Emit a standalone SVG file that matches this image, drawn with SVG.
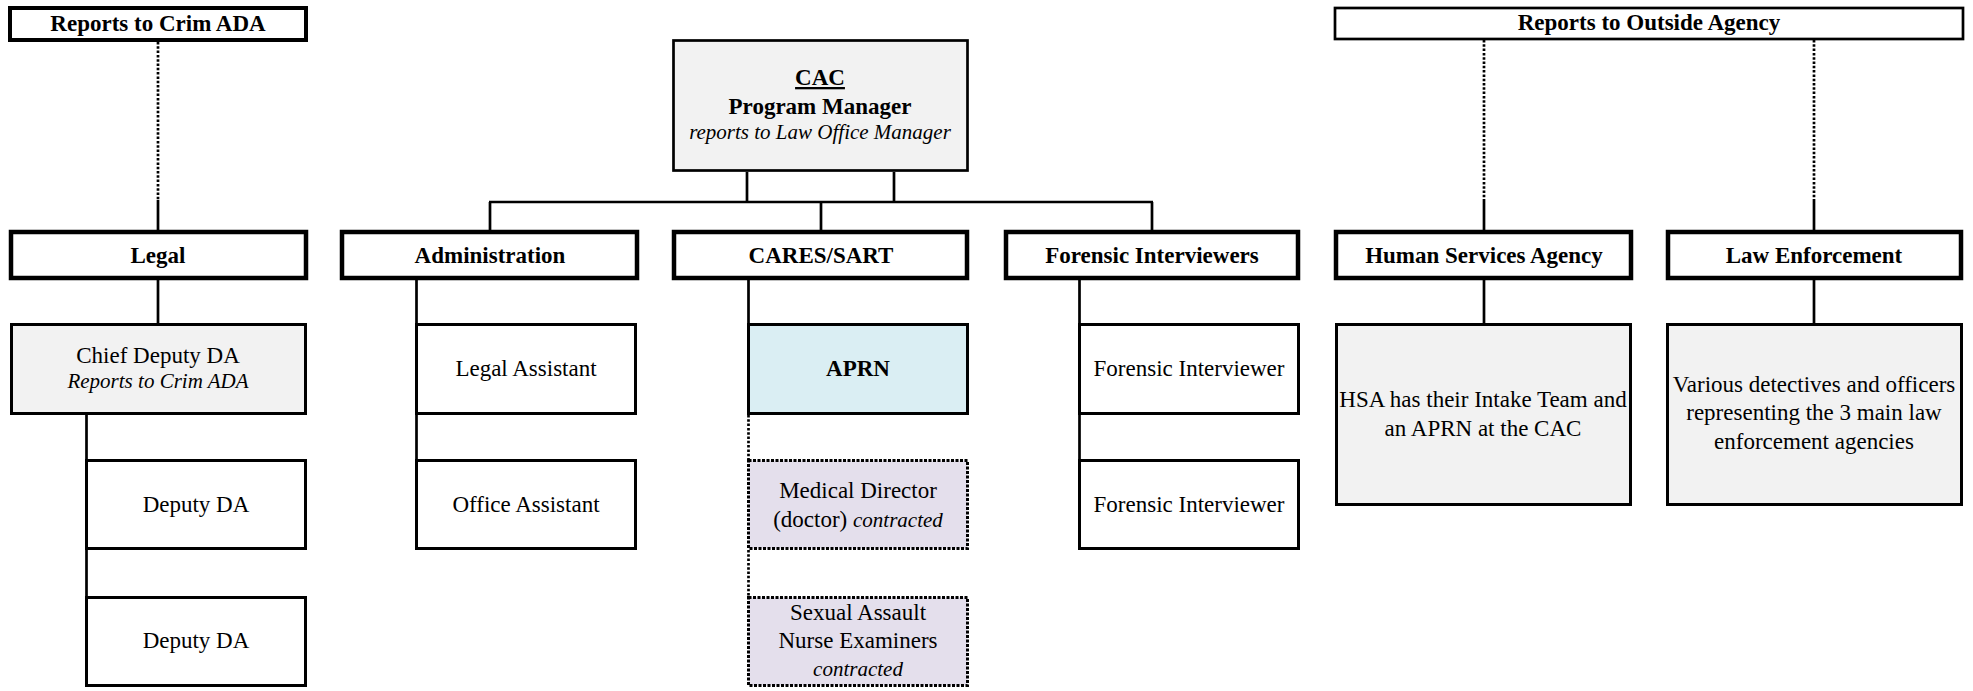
<svg xmlns="http://www.w3.org/2000/svg" width="1973" height="691" viewBox="0 0 1973 691">
<style>
text{font-family:"Liberation Serif","Times New Roman",serif;font-size:23px;fill:#000;text-anchor:middle}
.b{font-weight:bold}
.i{font-style:italic;font-size:21px}
.hdr{fill:#fff;stroke:#000;stroke-width:4.5}
.top{fill:#fff;stroke:#000;stroke-width:4}
.box{fill:#fff;stroke:#000;stroke-width:3}
.grey{fill:#f2f2f2}
.blue{fill:#daeef3}
.lav{fill:#e4dfec;stroke-dasharray:3 1.5}
.ln{stroke:#000;stroke-width:2.7;fill:none}
.dot{stroke-dasharray:2.5 1.8}
</style>
<rect width="1973" height="691" fill="#fff"/>
<g id="connectors">
<path class="ln dot" d="M158 42V200M1484 40V200M1814 40V200M748.5 415V459M748.5 550V596"/>
<path class="ln" d="M158 200V232M1484 200V232M1814 200V232"/>
<path class="ln" d="M747 172V202M894 172V202M489 202H1153M490 202V232M821 202V232M1152 202V232"/>
<path class="ln" d="M158 278V324M86.5 414V686M416.5 278V549M748.5 278V324M1079.5 278V549M1484 278V324M1814 278V324"/>
</g>
<g id="reports-crim-ada"><rect class="top" x="10" y="8" width="296" height="32"/><text class="b" x="158" y="31">Reports to Crim ADA</text></g>
<g id="reports-outside-agency"><rect class="box" x="1335" y="8" width="628" height="31" style="stroke-width:2.7"/><text class="b" x="1649" y="30">Reports to Outside Agency</text></g>
<g id="cac"><rect class="box grey" x="673.5" y="40.5" width="294" height="130" style="stroke-width:2.7"/>
<text class="b" x="820" y="85" text-decoration="underline">CAC</text>
<text class="b" x="820" y="114">Program Manager</text>
<text class="i" x="820" y="139">reports to Law Office Manager</text></g>
<g id="legal"><rect class="hdr" x="11" y="232" width="295" height="46"/><text class="b" x="158" y="263">Legal</text></g>
<g id="administration"><rect class="hdr" x="342" y="232" width="295" height="46"/><text class="b" x="490" y="263">Administration</text></g>
<g id="cares-sart"><rect class="hdr" x="674" y="232" width="293" height="46"/><text class="b" x="821" y="263">CARES/SART</text></g>
<g id="forensic-interviewers"><rect class="hdr" x="1006" y="232" width="292" height="46"/><text class="b" x="1152" y="263">Forensic Interviewers</text></g>
<g id="human-services-agency"><rect class="hdr" x="1336" y="232" width="295" height="46"/><text class="b" x="1484" y="263">Human Services Agency</text></g>
<g id="law-enforcement"><rect class="hdr" x="1668" y="232" width="293" height="46"/><text class="b" x="1814" y="263">Law Enforcement</text></g>
<g id="chief-deputy-da"><rect class="box grey" x="11.5" y="324.5" width="294" height="89"/><text x="158" y="363">Chief Deputy DA</text><text class="i" x="158" y="388">Reports to Crim ADA</text></g>
<g id="deputy-da-1"><rect class="box" x="86.5" y="460.5" width="219" height="88"/><text x="196" y="512">Deputy DA</text></g>
<g id="deputy-da-2"><rect class="box" x="86.5" y="597.5" width="219" height="88"/><text x="196" y="648">Deputy DA</text></g>
<g id="legal-assistant"><rect class="box" x="416.5" y="324.5" width="219" height="89"/><text x="526" y="376">Legal Assistant</text></g>
<g id="office-assistant"><rect class="box" x="416.5" y="460.5" width="219" height="88"/><text x="526" y="512">Office Assistant</text></g>
<g id="aprn"><rect class="box blue" x="748.5" y="324.5" width="219" height="89"/><text class="b" x="858" y="376">APRN</text></g>
<g id="medical-director"><rect class="box lav" x="748.5" y="460.5" width="219" height="88"/><text x="858" y="498">Medical Director</text><text x="858" y="527">(doctor) <tspan class="i">contracted</tspan></text></g>
<g id="sane"><rect class="box lav" x="748.5" y="597.5" width="219" height="88"/><text x="858" y="620">Sexual Assault</text><text x="858" y="648">Nurse Examiners</text><text class="i" x="858" y="676">contracted</text></g>
<g id="forensic-interviewer-1"><rect class="box" x="1079.5" y="324.5" width="219" height="89"/><text x="1189" y="376">Forensic Interviewer</text></g>
<g id="forensic-interviewer-2"><rect class="box" x="1079.5" y="460.5" width="219" height="88"/><text x="1189" y="512">Forensic Interviewer</text></g>
<g id="hsa-desc"><rect class="box grey" x="1336.5" y="324.5" width="294" height="180"/><text x="1483" y="407">HSA has their Intake Team and</text><text x="1483" y="436">an APRN at the CAC</text></g>
<g id="le-desc"><rect class="box grey" x="1667.5" y="324.5" width="294" height="180"/><text x="1814" y="392">Various detectives and officers</text><text x="1814" y="420">representing the 3 main law</text><text x="1814" y="449">enforcement agencies</text></g>
</svg>
